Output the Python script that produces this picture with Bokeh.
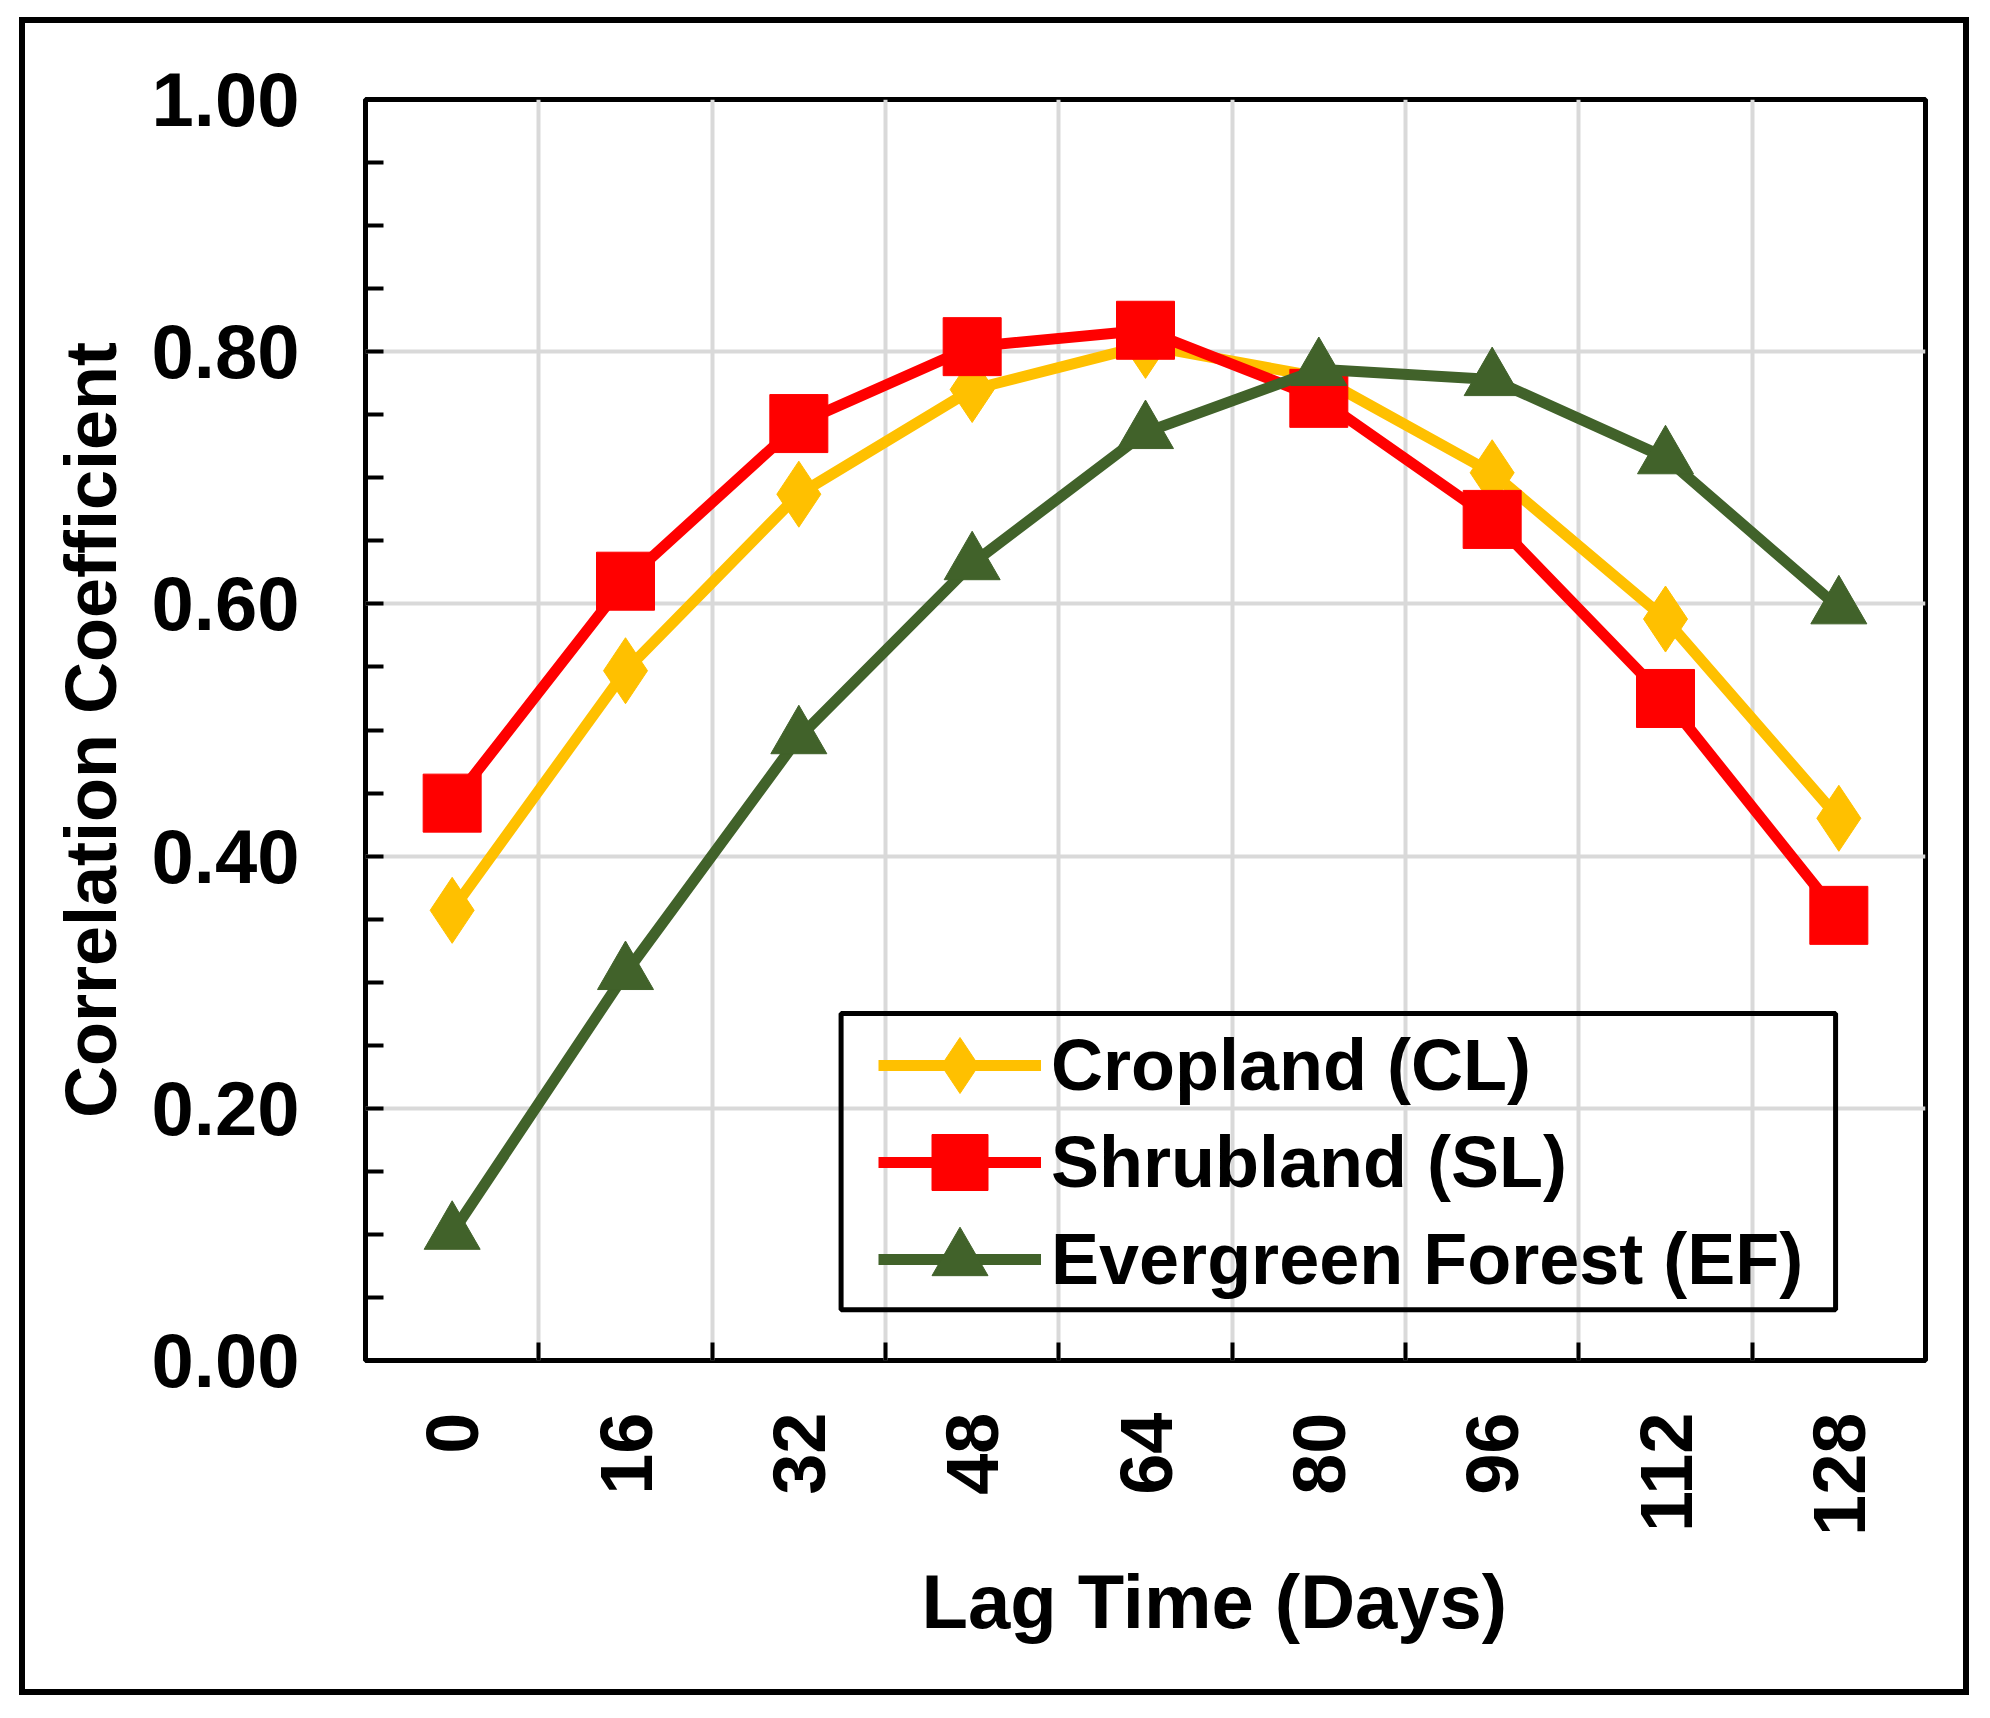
from bokeh.plotting import figure
from bokeh.models import (FixedTicker, Legend, LegendItem, Title, BoxAnnotation,
                          PrintfTickFormatter, Range1d)
from bokeh.embed import file_html
from bokeh.resources import INLINE

# ---- data ----
lag_days = [0, 16, 32, 48, 64, 80, 96, 112, 128]
cropland = [0.357, 0.547, 0.687, 0.770, 0.805, 0.780, 0.704, 0.588, 0.430]
shrubland = [0.442, 0.618, 0.743, 0.804, 0.817, 0.763, 0.667, 0.525, 0.353]
evergreen = [0.101, 0.307, 0.494, 0.632, 0.736, 0.786, 0.778, 0.716, 0.597]
series_names = ["Cropland (CL)", "Shrubland (SL)", "Evergreen Forest (EF)"]
x_title = "Lag Time (Days)"
y_title = "Correlation Coefficient"
y_major = [0.0, 0.2, 0.4, 0.6, 0.8, 1.0]
y_minor = [0.05, 0.10, 0.15, 0.25, 0.30, 0.35, 0.45, 0.50, 0.55,
           0.65, 0.70, 0.75, 0.85, 0.90, 0.95]
x_bounds = [8, 24, 40, 56, 72, 88, 104, 120]

FONT = "Liberation Sans"

p = figure(width=1974, height=1702,
           x_range=Range1d(-8, 136), y_range=Range1d(0, 1),
           output_backend="svg", toolbar_location=None,
           min_border_left=358, min_border_right=56,
           min_border_top=94, min_border_bottom=347)
p.margin = (5, 0, 0, 7)
p.background_fill_color = "white"
p.border_fill_color = None
p.border_fill_alpha = 0
p.outline_line_color = "black"
p.outline_line_width = 5
p.styles = {"outline": "6px solid black", "outline-offset": "-18px"}

# grids
p.xgrid.ticker = FixedTicker(ticks=x_bounds)
p.xgrid.grid_line_color = "#d9d9d9"
p.xgrid.grid_line_width = 4
p.ygrid.grid_line_color = "#d9d9d9"
p.ygrid.grid_line_width = 4

# x axis
xa = p.xaxis[0]
xa.ticker = FixedTicker(ticks=lag_days, minor_ticks=x_bounds)
xa.major_tick_in = 0
xa.major_tick_out = 0
xa.minor_tick_in = 18
xa.minor_tick_out = 0
xa.minor_tick_line_width = 4
xa.minor_tick_line_color = "black"
xa.axis_line_color = None
xa.major_label_orientation = 1.5707963
xa.major_label_standoff = 52
xa.major_label_text_font = FONT
xa.major_label_text_font_style = "bold"
xa.major_label_text_font_size = "74px"
xa.major_label_text_color = "black"

# x axis title, shifted to the right like the reference
xt = Title(text=x_title, align="left", offset=556, standoff=36,
           text_font=FONT, text_font_style="bold", text_font_size="76px",
           text_color="black")
p.add_layout(xt, "below")

# y axis
ya = p.yaxis[0]
ya.ticker = FixedTicker(ticks=y_major, minor_ticks=y_minor)
ya.formatter = PrintfTickFormatter(format="%.2f")
ya.major_tick_in = 18
ya.major_tick_out = 0
ya.minor_tick_in = 18
ya.minor_tick_out = 0
ya.major_tick_line_width = 4
ya.minor_tick_line_width = 4
ya.major_tick_line_color = "black"
ya.minor_tick_line_color = "black"
ya.axis_line_color = None
ya.major_label_standoff = 66
ya.major_label_text_font = FONT
ya.major_label_text_font_style = "bold"
ya.major_label_text_font_size = "76px"
ya.major_label_text_color = "black"
ya.axis_label = y_title
ya.axis_label_text_font = FONT
ya.axis_label_text_font_style = "bold"
ya.axis_label_text_font_size = "72px"
ya.axis_label_text_color = "black"
ya.axis_label_standoff = 18

# series
colors = ["#FFC000", "#FF0000", "#41622A"]

l1 = p.line(lag_days, cropland, line_color=colors[0], line_width=11)
s1 = p.scatter(lag_days, cropland, marker="diamond", size=66,
               fill_color=colors[0], line_color=colors[0])
l2 = p.line(lag_days, shrubland, line_color=colors[1], line_width=11)
s2 = p.scatter(lag_days, shrubland, marker="square", size=58,
               fill_color=colors[1], line_color=colors[1])
l3 = p.line(lag_days, evergreen, line_color=colors[2], line_width=11)
s3 = p.scatter(lag_days, evergreen, marker="triangle", size=56,
               fill_color=colors[2], line_color=colors[2])

# legend: one single-entry legend per row (so the markers keep full size),
# with the shared frame drawn as a box annotation
row_renderers = [[l1, s1], [l2, s2], [l3, s3]]
row_offsets = [225, 128, 31]
for name, rends, off in zip(series_names, row_renderers, row_offsets):
    lg = Legend(items=[LegendItem(label=name, renderers=rends)],
                location=(513, off), orientation="vertical",
                glyph_width=163, glyph_height=140, label_height=140,
                spacing=0, padding=0, margin=0, label_standoff=10,
                border_line_color=None, background_fill_alpha=0,
                label_text_font=FONT, label_text_font_style="bold",
                label_text_font_size="72px", label_text_color="black")
    p.add_layout(lg)

legend_frame = BoxAnnotation(left=35.9, right=127.7, bottom=0.0403, top=0.2752,
                             fill_color=None, fill_alpha=0,
                             line_color="black", line_width=5, line_alpha=1.0)
p.add_layout(legend_frame)

open("out.html", "w").write(file_html(p, INLINE))
